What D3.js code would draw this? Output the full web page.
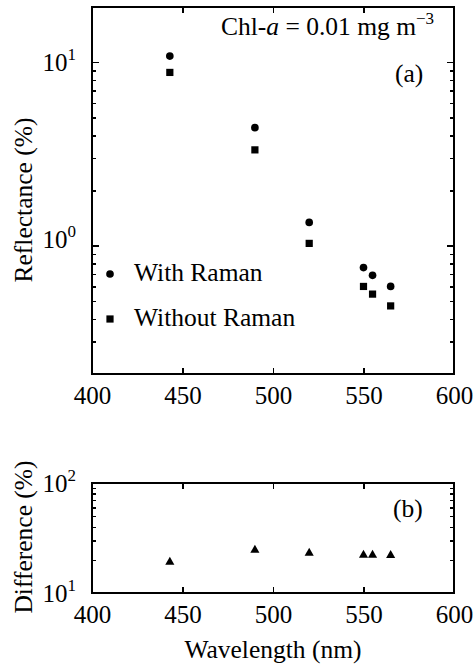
<!DOCTYPE html>
<meta charset="utf-8">
<style>
    body {
        margin: 0;
        background: white;
    }

    svg {
        font-family: "Liberation Serif", "Times New Roman", serif;
        fill: black;
    }

    .frame {
        fill: none;
        stroke: black;
        stroke-width: 2;
    }

    .axis path {
        display: none;
    }

    .axis line {
        stroke: black;
        stroke-width: 1.5;
        shape-rendering: crispEdges;
    }

    .axis text {
        font-family: "Liberation Serif", "Times New Roman", serif;
        font-size: 25px;
        fill: black;
    }

    .label {
        font-size: 25.5px;
    }
</style>
<body>
<script src="https://cdn.jsdelivr.net/npm/d3@7"></script>
<script>
    // values
    const wavelengths = [443, 490, 520, 550, 555, 565];
    const withRaman = [10.8, 4.4, 1.34, 0.76, 0.69, 0.60];
    const withoutRaman = [8.8, 3.33, 1.03, 0.60, 0.545, 0.47];
    const difference = [19.1, 24.6, 23.1, 22.1, 22.1, 22.0];

    const xTicks = [400, 450, 500, 550, 600];
    const reflMajor = [1, 10];
    const reflMinor = [0.2, 0.3, 0.4, 0.5, 0.6, 0.7, 0.8, 0.9, 2, 3, 4, 5, 6, 7, 8, 9, 20];
    const diffMajor = [10, 100];
    const diffMinor = [20, 30, 40, 50, 60, 70, 80, 90];

    const width = 473;
    const height = 666;

    const svg = d3.select('body')
        .append('svg')
        .attr('width', width)
        .attr('height', height);

    const x = d3.scaleLinear().domain([400, 600]).range([92, 454]);
    const yTop = d3.scaleLog().domain([0.2, 20]).range([374, 7]);
    const yBot = d3.scaleLog().domain([10, 100]).range([593, 483]);

    function drawPanel(y, major, minor) {
        const [y0, y1] = y.range();

        // bottom x axis with labels, ticks pointing in
        svg.append('g')
            .attr('class', 'axis')
            .attr('transform', 'translate(0,' + y0 + ')')
            .call(d3.axisBottom(x).tickValues(xTicks).tickSizeInner(-6).tickSizeOuter(0).tickPadding(9))
            .selectAll('text').attr('dy', '0.85em');

        // top x axis, ticks only
        svg.append('g')
            .attr('class', 'axis')
            .attr('transform', 'translate(0,' + y1 + ')')
            .call(d3.axisTop(x).tickValues(xTicks.slice(1, -1)).tickSizeInner(-6).tickSizeOuter(0).tickFormat(''));

        // left and right y ticks (major longer)
        [[d3.axisLeft, x.range()[0]], [d3.axisRight, x.range()[1]]].forEach(([axisFn, xpos]) => {
            svg.append('g')
                .attr('class', 'axis')
                .attr('transform', 'translate(' + xpos + ',0)')
                .call(axisFn(y).tickValues(minor).tickSizeInner(-4).tickSizeOuter(0).tickFormat(''));
            svg.append('g')
                .attr('class', 'axis')
                .attr('transform', 'translate(' + xpos + ',0)')
                .call(axisFn(y).tickValues(major).tickSizeInner(-7).tickSizeOuter(0).tickFormat(''));
        });

        // y tick labels 10^n
        major.forEach(v => {
            const t = svg.append('text')
                .attr('x', x.range()[0] - 16)
                .attr('y', y(v) + (v === 1 ? 2 : 9))
                .attr('text-anchor', 'end')
                .style('font-size', '25px');
            t.append('tspan').text('10');
            t.append('tspan')
                .attr('dy', -11)
                .style('font-size', '17px')
                .text(Math.round(Math.log10(v)));
        });

        svg.append('rect')
            .attr('class', 'frame')
            .attr('x', x.range()[0])
            .attr('y', y1)
            .attr('width', x.range()[1] - x.range()[0])
            .attr('height', y0 - y1);
    }

    drawPanel(yTop, reflMajor, reflMinor);
    drawPanel(yBot, diffMajor, diffMinor);

    const circle = d3.symbol().type(d3.symbolCircle).size(46);
    const square = d3.symbol().type(d3.symbolSquare).size(52);
    const triangle = d3.symbol().type(d3.symbolTriangle).size(36);

    // panel (a) points
    svg.append('g').selectAll('path')
        .data(wavelengths)
        .enter().append('path')
        .attr('d', circle)
        .attr('transform', (d, i) => 'translate(' + x(d) + ',' + yTop(withRaman[i]) + ')');

    svg.append('g').selectAll('path')
        .data(wavelengths)
        .enter().append('path')
        .attr('d', square)
        .attr('transform', (d, i) => 'translate(' + x(d) + ',' + yTop(withoutRaman[i]) + ')');

    // panel (b) points
    svg.append('g').selectAll('path')
        .data(wavelengths)
        .enter().append('path')
        .attr('d', triangle)
        .attr('transform', (d, i) => 'translate(' + x(d) + ',' + yBot(difference[i]) + ')');

    // legend
    const legend = [
        {sym: circle, text: 'With Raman', y: 274},
        {sym: square, text: 'Without Raman', y: 319}
    ];
    legend.forEach(l => {
        svg.append('path')
            .attr('d', l.sym)
            .attr('transform', 'translate(110,' + l.y + ')');
        svg.append('text')
            .attr('class', 'label')
            .attr('x', 134)
            .attr('y', l.y + 7)
            .text(l.text);
    });

    // annotations
    const chl = svg.append('text')
        .attr('class', 'label')
        .attr('x', 221)
        .attr('y', 35);
    chl.append('tspan').text('Chl-');
    chl.append('tspan').style('font-style', 'italic').text('a');
    chl.append('tspan').text(' = 0.01 mg m');
    chl.append('tspan').attr('dy', -11).style('font-size', '17px').text('\u22123');

    svg.append('text').attr('class', 'label').attr('x', 395).attr('y', 82).text('(a)');
    svg.append('text').attr('class', 'label').attr('x', 393).attr('y', 517).text('(b)');

    // axis titles
    svg.append('text')
        .attr('class', 'label')
        .attr('transform', 'translate(32,200) rotate(-90)')
        .attr('text-anchor', 'middle')
        .text('Reflectance (%)');

    svg.append('text')
        .attr('class', 'label')
        .attr('transform', 'translate(32,537) rotate(-90)')
        .attr('text-anchor', 'middle')
        .text('Difference (%)');

    svg.append('text')
        .attr('class', 'label')
        .attr('x', 273)
        .attr('y', 658)
        .attr('text-anchor', 'middle')
        .text('Wavelength (nm)');
</script>
</body>
</html>
